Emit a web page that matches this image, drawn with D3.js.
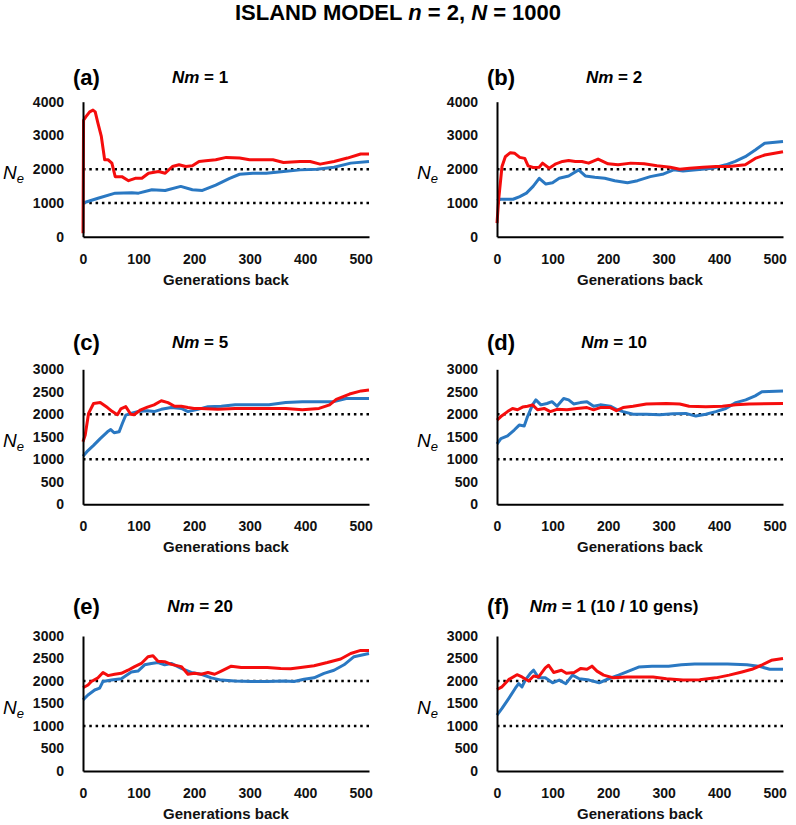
<!DOCTYPE html>
<html>
<head>
<meta charset="utf-8">
<script src="https://cdn.jsdelivr.net/npm/d3@7"></script>
<style>
  body { margin: 0; background: #fff; }
  text { font-family: "Liberation Sans", Arial, sans-serif; }
</style>
</head>
<body>
<div id="app"></div>
<script>
// panel labels
const panelLetters = ['(a)', '(b)', '(c)', '(d)', '(e)', '(f)'];
const nmSuffix = [' = 1', ' = 2', ' = 5', ' = 10', ' = 20', ' = 1 (10 / 10 gens)'];
const yTicksA = [0, 1000, 2000, 3000, 4000];
const yTicksC = [0, 500, 1000, 1500, 2000, 2500, 3000];
const xTicks = [0, 100, 200, 300, 400, 500];
const refLines = [1000, 2000];

// [generations back, Ne]
const aBlue = [[0,1000],[27,1140],[58,1290],[88,1300],[100,1290],[124,1390],[148,1370],[176,1490],[197,1390],[215,1370],[239,1530],[264,1730],[282,1850],[306,1880],[330,1880],[361,1930],[391,1980],[421,2000],[452,2060],[482,2180],[515,2230]];
const aRed = [[0,100],[1,3450],[5,3550],[12,3700],[18,3750],[22,3700],[27,3360],[33,2970],[39,2280],[45,2280],[52,2180],[58,1780],[70,1780],[82,1660],[94,1730],[106,1730],[118,1880],[136,1930],[148,1880],[161,2080],[173,2130],[185,2080],[197,2100],[209,2230],[221,2250],[239,2280],[258,2350],[282,2330],[300,2280],[324,2280],[342,2280],[361,2200],[391,2230],[409,2230],[427,2150],[452,2230],[476,2330],[500,2450],[515,2450]];
const bBlue = [[0,1070],[6,1110],[29,1110],[41,1190],[53,1290],[65,1490],[76,1730],[88,1560],[100,1600],[112,1730],[129,1800],[147,1980],[159,1800],[176,1760],[194,1730],[212,1660],[235,1600],[253,1660],[276,1780],[300,1860],[318,1980],[335,1950],[359,1980],[388,2030],[412,2130],[429,2230],[447,2370],[465,2570],[482,2770],[515,2820]];
const bRed = [[0,400],[3,1100],[9,2080],[15,2370],[24,2490],[32,2470],[41,2350],[50,2320],[56,2100],[65,2050],[76,2060],[82,2180],[94,2030],[106,2160],[118,2230],[129,2260],[141,2230],[153,2230],[165,2180],[182,2300],[200,2160],[218,2130],[241,2180],[265,2160],[288,2100],[312,2060],[329,2000],[347,2030],[371,2060],[394,2080],[418,2080],[447,2130],[465,2320],[482,2420],[515,2520]];
const cBlue = [[0,1070],[7,1170],[19,1310],[31,1460],[44,1610],[50,1660],[56,1590],[65,1610],[71,1800],[77,1980],[86,2020],[98,2060],[116,2080],[128,2060],[141,2110],[159,2150],[177,2130],[189,2060],[207,2110],[225,2170],[249,2180],[274,2210],[304,2210],[335,2210],[365,2260],[395,2280],[425,2280],[450,2280],[474,2350],[515,2350]];
const cRed = [[0,1390],[4,1540],[10,2020],[19,2240],[31,2260],[44,2150],[53,2060],[62,1990],[68,2120],[77,2170],[86,2000],[92,1990],[104,2100],[116,2160],[128,2210],[141,2300],[153,2260],[165,2180],[177,2180],[189,2150],[200,2130],[212,2130],[243,2110],[274,2130],[304,2130],[335,2130],[365,2130],[395,2100],[425,2130],[444,2210],[456,2330],[480,2450],[501,2520],[515,2540]];
const dBlue = [[0,1340],[7,1460],[19,1520],[31,1650],[40,1760],[49,1740],[55,1950],[64,2210],[70,2320],[79,2210],[90,2240],[99,2280],[108,2180],[120,2350],[129,2320],[138,2230],[150,2260],[162,2280],[174,2180],[186,2210],[204,2180],[215,2110],[227,2060],[245,2000],[269,2000],[293,1990],[317,2010],[340,2020],[358,1960],[376,2000],[394,2060],[412,2130],[430,2260],[448,2320],[465,2410],[477,2500],[515,2520]];
const dRed = [[0,1870],[7,1950],[19,2060],[28,2130],[37,2100],[46,2160],[55,2180],[64,2210],[73,2100],[85,2130],[96,2060],[108,2110],[126,2100],[144,2130],[162,2150],[174,2100],[186,2150],[204,2150],[215,2080],[227,2150],[245,2180],[269,2230],[305,2240],[329,2230],[346,2180],[376,2170],[406,2180],[430,2210],[454,2230],[515,2240]];
const eBlue = [[0,1580],[9,1690],[21,1800],[30,1840],[36,1990],[51,2020],[69,2050],[87,2200],[99,2220],[111,2360],[123,2390],[135,2410],[147,2360],[159,2390],[177,2280],[195,2190],[213,2150],[231,2070],[249,2020],[273,2000],[303,1990],[332,1990],[362,2000],[380,1990],[398,2040],[416,2070],[434,2170],[452,2240],[470,2360],[488,2540],[515,2610]];
const eRed = [[0,1850],[9,1910],[15,1990],[27,2070],[36,2190],[45,2120],[57,2150],[69,2170],[81,2240],[93,2320],[105,2390],[117,2540],[126,2560],[135,2440],[147,2430],[159,2370],[177,2320],[189,2150],[201,2170],[213,2150],[225,2190],[237,2150],[249,2220],[267,2330],[285,2300],[308,2300],[332,2300],[356,2280],[374,2270],[392,2300],[416,2340],[440,2410],[464,2490],[482,2610],[500,2680],[515,2680]];
const fBlue = [[0,1240],[9,1390],[21,1610],[33,1840],[39,1940],[45,1870],[51,2020],[60,2170],[66,2240],[75,2070],[87,2070],[100,1960],[112,2020],[124,1940],[136,2130],[148,2050],[166,2020],[184,1960],[201,2050],[219,2130],[237,2220],[255,2310],[279,2330],[309,2330],[332,2360],[356,2380],[385,2380],[415,2380],[450,2360],[474,2320],[491,2260],[515,2260]];
const fRed = [[0,1810],[9,1870],[21,2030],[36,2140],[45,2090],[57,2000],[66,2110],[75,2090],[87,2290],[93,2350],[102,2190],[116,2240],[125,2170],[139,2190],[151,2280],[162,2260],[171,2330],[180,2220],[192,2130],[210,2070],[234,2090],[258,2090],[281,2090],[305,2050],[335,2020],[365,2030],[394,2070],[418,2130],[441,2200],[459,2260],[476,2350],[494,2460],[515,2500]];

const blueSeries = [aBlue, bBlue, cBlue, dBlue, eBlue, fBlue];
const redSeries = [aRed, bRed, cRed, dRed, eRed, fRed];
const yTickSets = [yTicksA, yTicksA, yTicksC, yTicksC, yTicksC, yTicksC];

const W = 796, H = 825;
const colX = [83, 497];
const rowY = [101.7, 369.3, 636];
const titleY = [84, 349, 613];
const pw = 286, ph = 135;
const xMax = 515;

const svg = d3.select('#app').append('svg')
  .attr('width', W)
  .attr('height', H)
  .style('background', '#fff');

let title = svg.append('text')
  .attr('x', W / 2)
  .attr('y', 20)
  .attr('text-anchor', 'middle')
  .attr('font-size', 22)
  .attr('font-weight', 'bold');
title.append('tspan').text('ISLAND MODEL ');
title.append('tspan').attr('font-style', 'italic').text('n');
title.append('tspan').text(' = 2, ');
title.append('tspan').attr('font-style', 'italic').text('N');
title.append('tspan').text(' = 1000');

panelLetters.forEach((letter, i) => {
  let col = i % 2, row = Math.floor(i / 2);
  let x0 = colX[col], y0 = rowY[row];
  let ticks = yTickSets[i];

  let xScale = d3.scaleLinear().domain([0, xMax]).range([0, pw]);
  let yScale = d3.scaleLinear().domain([0, d3.max(ticks)]).range([ph, 0]);

  let g = svg.append('g').attr('transform', 'translate(' + x0 + ',' + y0 + ')');

  // panel heading
  svg.append('text')
    .attr('x', x0 - 10)
    .attr('y', titleY[row] + 1)
    .attr('font-size', 22)
    .attr('font-weight', 'bold')
    .text(letter);
  let nm = svg.append('text')
    .attr('x', x0 + 117)
    .attr('y', titleY[row] - 1)
    .attr('text-anchor', 'middle')
    .attr('font-size', 17)
    .attr('font-weight', 'bold');
  nm.append('tspan').attr('font-style', 'italic').text('Nm');
  nm.append('tspan').text(nmSuffix[i]);

  // dotted reference lines
  g.selectAll('.ref')
    .data(refLines)
    .enter().append('line')
    .attr('x1', 0)
    .attr('x2', pw)
    .attr('y1', d => yScale(d))
    .attr('y2', d => yScale(d))
    .attr('stroke', '#000')
    .attr('stroke-width', 2.5)
    .attr('stroke-dasharray', '2.5,3.8');

  let ln = d3.line()
    .x(d => xScale(d[0]))
    .y(d => yScale(d[1]));

  g.append('path')
    .attr('fill', 'none')
    .attr('stroke', '#2a78c2')
    .attr('stroke-width', 3)
    .attr('stroke-linejoin', 'round')
    .attr('d', ln(blueSeries[i]));

  g.append('path')
    .attr('fill', 'none')
    .attr('stroke', '#f50d0d')
    .attr('stroke-width', 3)
    .attr('stroke-linejoin', 'round')
    .attr('d', ln(redSeries[i]));

  let yAxis = d3.axisLeft(yScale).tickValues(ticks).tickFormat(d3.format('d'))
    .tickSize(0).tickPadding(19);
  let xAxis = d3.axisBottom(xScale).tickValues(xTicks).tickFormat(d3.format('d'))
    .tickSize(0).tickPadding(17);

  let yg = g.append('g').call(yAxis);
  let xg = g.append('g').attr('transform', 'translate(0,' + ph + ')').call(xAxis);

  [yg, xg].forEach(ax => {
    ax.select('.domain').attr('stroke', '#000').attr('stroke-width', 2);
    ax.selectAll('text')
      .attr('font-family', '"Liberation Sans", Arial, sans-serif')
      .attr('font-size', 14)
      .attr('font-weight', 'bold')
      .attr('fill', '#111');
  });

  g.append('text')
    .attr('x', pw / 2)
    .attr('y', ph + 48)
    .attr('text-anchor', 'middle')
    .attr('font-size', 15)
    .attr('font-weight', 'bold')
    .attr('fill', '#111')
    .text('Generations back');

  let ne = g.append('text')
    .attr('x', -80)
    .attr('y', ph / 2 + 10)
    .attr('font-size', 19)
    .attr('font-style', 'italic');
  ne.append('tspan').text('N');
  ne.append('tspan').attr('font-size', 13).attr('dy', 4).text('e');
});
</script>
</body>
</html>
